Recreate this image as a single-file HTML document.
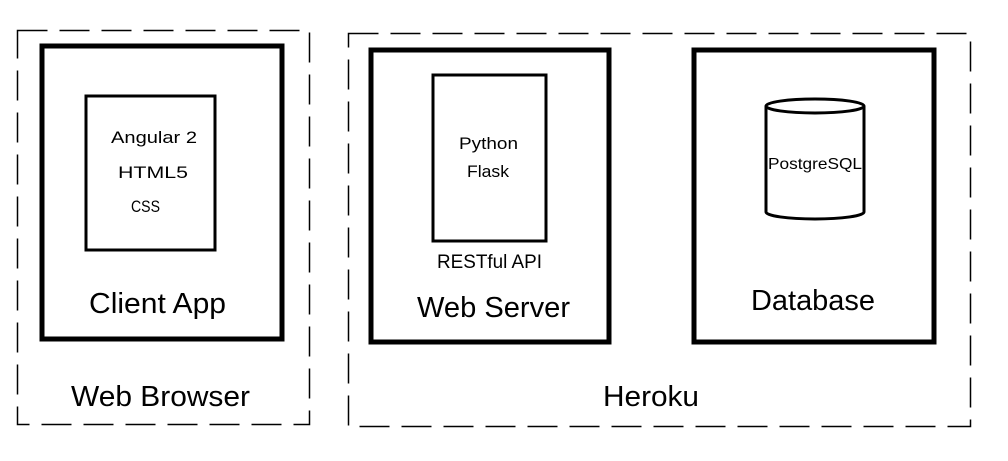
<!DOCTYPE html>
<html><head><style>body{margin:0;background:#fff}svg{display:block}text{font-family:"Liberation Sans",sans-serif;fill:#000}</style></head><body>
<svg width="1008" height="461" viewBox="0 0 1008 461" xmlns="http://www.w3.org/2000/svg">
<g fill="none" stroke="#000">
<rect x="17.5" y="30.5" width="292" height="394" stroke-width="1.5" stroke-dasharray="30,12"/>
<rect x="348.5" y="33.5" width="622" height="393" stroke-width="1.5" stroke-dasharray="30,12"/>
<rect x="42" y="46" width="240" height="293" stroke-width="5"/>
<rect x="86" y="96" width="129" height="154" stroke-width="3"/>
<rect x="371" y="50" width="238" height="292" stroke-width="5"/>
<rect x="433" y="75" width="113" height="166" stroke-width="3"/>
<rect x="694" y="50" width="240" height="292" stroke-width="5"/>
<path d="M766 106 V212 A49 7 0 0 0 864 212 V106" stroke-width="3"/>
<ellipse cx="815" cy="106" rx="49" ry="7" stroke-width="3"/>
</g>
<g lengthAdjust="spacingAndGlyphs">
<text x="111" y="143" font-size="17" textLength="86" lengthAdjust="spacingAndGlyphs">Angular 2</text>
<text x="118" y="178" font-size="17" textLength="70" lengthAdjust="spacingAndGlyphs">HTML5</text>
<text x="131" y="212" font-size="17" textLength="29" lengthAdjust="spacingAndGlyphs">CSS</text>
<text x="89" y="313" font-size="29" textLength="137" lengthAdjust="spacingAndGlyphs">Client App</text>
<text x="71" y="406" font-size="29" textLength="179" lengthAdjust="spacingAndGlyphs">Web Browser</text>
<text x="459" y="149" font-size="17" textLength="59" lengthAdjust="spacingAndGlyphs">Python</text>
<text x="467" y="177" font-size="17" textLength="42" lengthAdjust="spacingAndGlyphs">Flask</text>
<text x="437" y="268" font-size="19" textLength="105" lengthAdjust="spacingAndGlyphs">RESTful API</text>
<text x="417" y="317" font-size="29" textLength="153" lengthAdjust="spacingAndGlyphs">Web Server</text>
<text x="751" y="310" font-size="29" textLength="124" lengthAdjust="spacingAndGlyphs">Database</text>
<text x="603" y="406" font-size="29" textLength="96" lengthAdjust="spacingAndGlyphs">Heroku</text>
<text x="768" y="169" font-size="16" textLength="94" lengthAdjust="spacingAndGlyphs">PostgreSQL</text>
</g>
</svg>
</body></html>
